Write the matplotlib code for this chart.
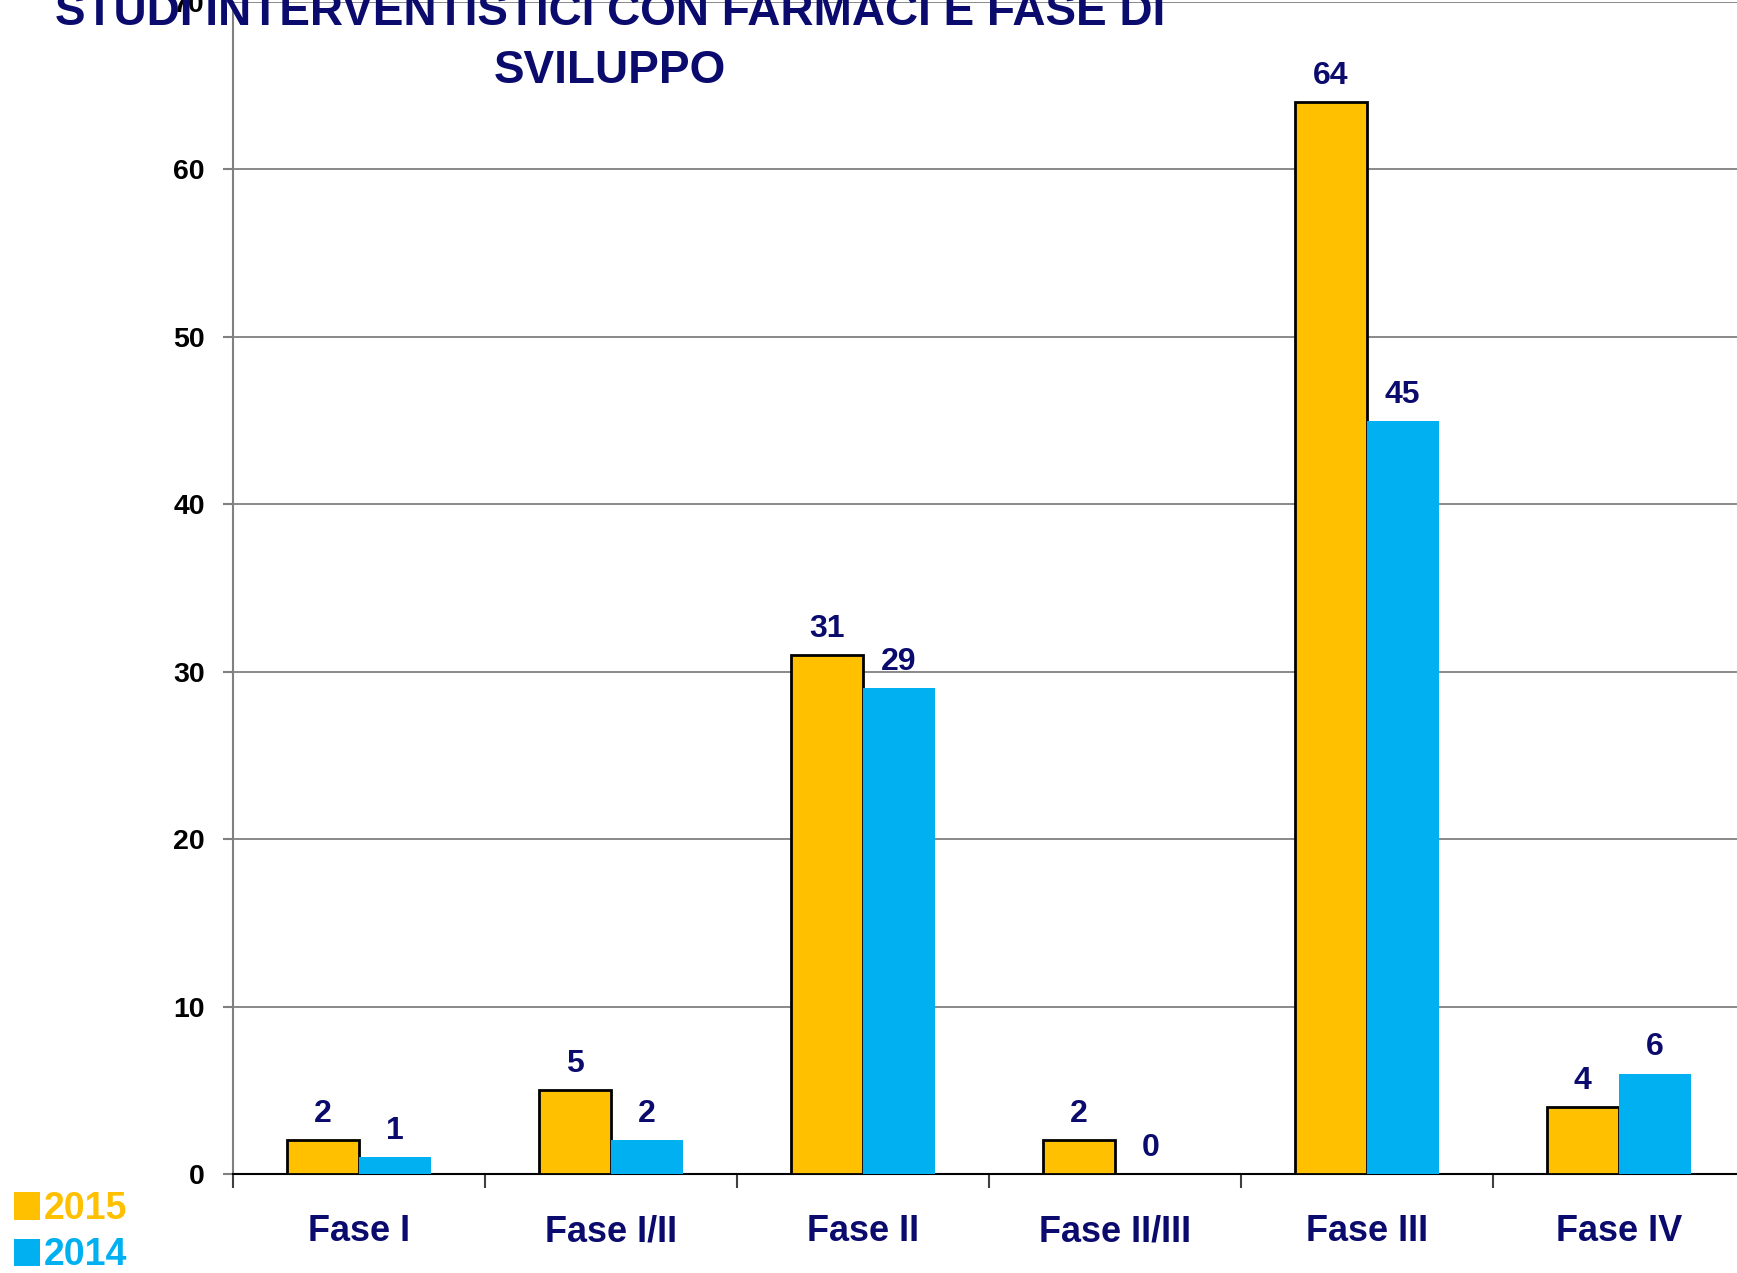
import matplotlib
matplotlib.rcParams["font.family"] = ["Liberation Sans", "DejaVu Sans"]
matplotlib.rcParams["font.weight"] = "bold"
import matplotlib.pyplot as plt
import numpy as np
from matplotlib.patches import Patch

# Data
fasi = ["Fase I", "Fase I/II", "Fase II", "Fase II/III", "Fase III", "Fase IV"]
studi_2015 = [2, 5, 31, 2, 64, 4]
studi_2014 = [1, 2, 29, 0, 45, 6]
anni = ["2015", "2014"]
titolo = ["STUDI INTERVENTISTICI CON FARMACI E FASE DI", "SVILUPPO"]

# Colors
NAVY = "#0b0b6e"
ORANGE = "#FFC000"
BLUE = "#00B0F0"

fig = plt.figure(figsize=(17.37, 12.73), dpi=100)
ax = fig.add_axes([0.1339, 0.0778, 0.8705, 0.9206])

x = np.arange(len(fasi))
bar_width = 0.286

bars_2015 = ax.bar(x - bar_width / 2, studi_2015, width=bar_width, color=ORANGE,
                   edgecolor="black", linewidth=2, zorder=3)
bars_2014 = ax.bar(x + bar_width / 2, studi_2014, width=bar_width, color=BLUE,
                   linewidth=0, zorder=3)

# Value labels over the bars
for bars, values in ((bars_2015, studi_2015), (bars_2014, studi_2014)):
    for rect, val in zip(bars, values):
        ax.annotate(str(val), (rect.get_x() + rect.get_width() / 2, rect.get_height()),
                    textcoords="offset points", xytext=(0, 13), ha="center", va="baseline",
                    fontsize=23, fontweight="bold", color=NAVY, zorder=5)

# Axes limits and grid
ax.set_xlim(-0.5, len(fasi) - 0.5)
ax.set_ylim(0, 70)
ax.set_yticks(np.arange(0, 71, 10))
ax.yaxis.grid(True, color="#808080", linewidth=1.3, zorder=0)
ax.set_axisbelow(True)

# Category boundaries as major ticks, labels on minor ticks
ax.set_xticks(np.arange(-0.5, len(fasi) - 0.5, 1.0))
ax.set_xticklabels([])
ax.set_xticks(x, minor=True)
ax.set_xticklabels(fasi, minor=True, fontsize=26, fontweight="bold", color=NAVY)
ax.tick_params(axis="x", which="minor", length=0, pad=29)
ax.tick_params(axis="x", which="major", length=10, width=1.5, color="#404040", direction="out")
ax.tick_params(axis="y", length=7, width=1.5, color="#808080", pad=13, labelsize=20.5)
for lbl in ax.get_yticklabels():
    lbl.set_fontweight("bold")

for side in ("top", "right"):
    ax.spines[side].set_visible(False)
ax.spines["left"].set_color("#808080")
ax.spines["left"].set_linewidth(1.5)
ax.spines["bottom"].set_color("black")
ax.spines["bottom"].set_linewidth(1.5)

# Title (two lines, overlapping the top of the plot)
fig.text(610 / 1737, 1 - 25 / 1273, titolo[0], ha="center", va="baseline",
         fontsize=33, fontweight="bold", color=NAVY, zorder=10)
fig.text(610 / 1737, 1 - 83 / 1273, titolo[1], ha="center", va="baseline",
         fontsize=33, fontweight="bold", color=NAVY, zorder=10)

# Legend in the bottom-left corner, text colored like the series
handles = [Patch(facecolor=ORANGE, edgecolor="none"), Patch(facecolor=BLUE, edgecolor="none")]
leg = fig.legend(handles, anni, loc="lower left", bbox_to_anchor=(-0.005, -0.018),
                 frameon=False, fontsize=27, handlelength=0.7, handleheight=0.75,
                 handletextpad=0.1, labelspacing=0.27, borderaxespad=0.2)
for txt, col in zip(leg.get_texts(), (ORANGE, BLUE)):
    txt.set_color(col)
    txt.set_fontweight("bold")

fig.savefig("out.png", dpi=100)
plt.close(fig)
